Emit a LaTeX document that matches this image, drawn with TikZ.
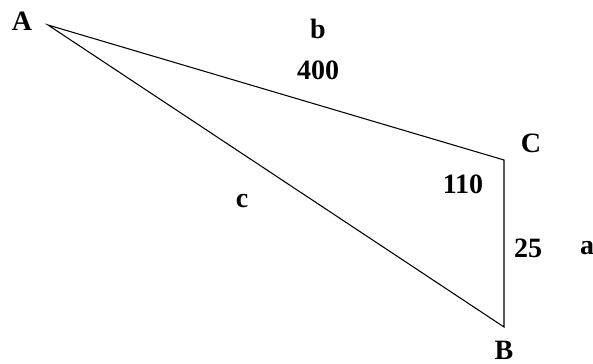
\documentclass[tikz,border=0pt]{standalone}
\usepackage{fontspec}
\setmainfont{Liberation Serif}
\begin{document}
\begin{tikzpicture}[x=0.75pt,y=-0.75pt,
  lbl/.style={font=\fontsize{21}{24}\selectfont\bfseries, inner sep=0pt, anchor=center},
  side/.style={line width=0.8pt, black}]
\useasboundingbox[fill=white] (0,0) rectangle (593,364);
\coordinate (A) at (48,25);
\coordinate (C) at (504,160);
\coordinate (B) at (504,327);
\draw[side] (A) -- (C) -- (B) -- cycle;
\node[lbl] (lA) at (22,21) {A};
\node[lbl] (lb) at (318,29) {b};
\node[lbl] (l400) at (318,70) {400};
\node[lbl] (lC) at (531,143) {C};
\node[lbl] (l110) at (463,184) {110};
\node[lbl] (lc) at (242,201) {c};
\node[lbl] (l25) at (528,248) {25};
\node[lbl] (la) at (587,248) {a};
\node[lbl] (lB) at (504,350) {B};
\end{tikzpicture}
\end{document}
